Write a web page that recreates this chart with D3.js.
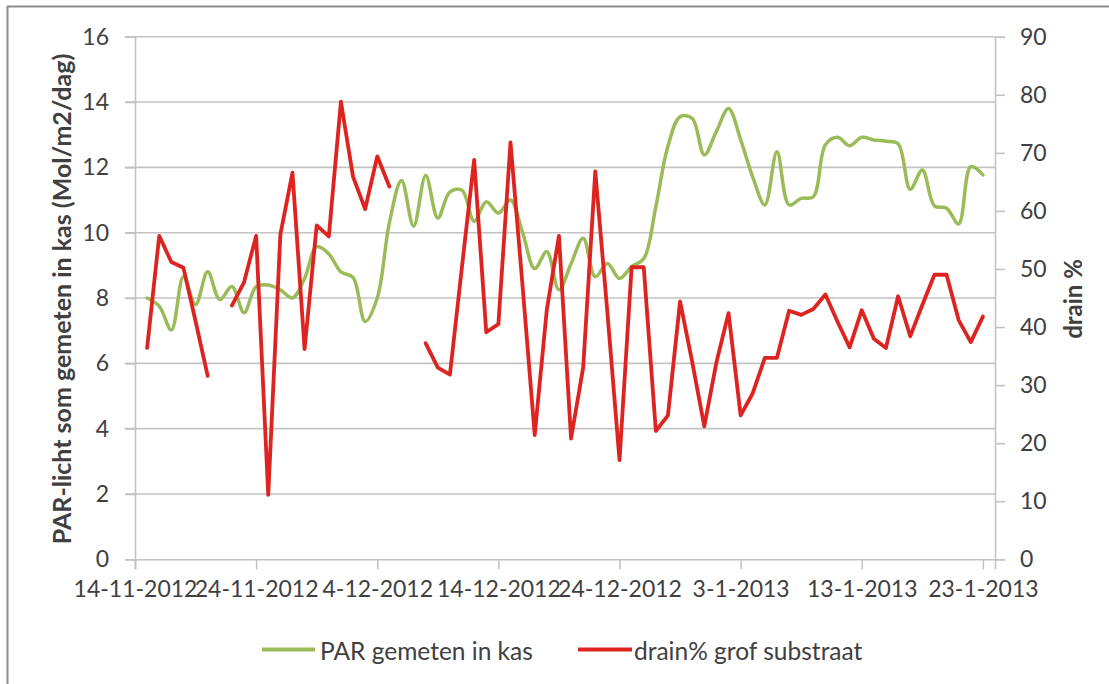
<!DOCTYPE html>
<html>
<head>
<meta charset="utf-8">
<script src="https://cdn.jsdelivr.net/npm/d3@7"></script>
<style>
  html, body { margin: 0; padding: 0; background: #ffffff; }
  svg { display: block; }
  text { font-family: "Lato", "Open Sans", sans-serif; fill: #404040; }
</style>
</head>
<body>
<svg id="chart" width="1109" height="684"></svg>
<script>
// ---------- data ----------
const dates = [
  "2012-11-15","2012-11-16","2012-11-17","2012-11-18","2012-11-19","2012-11-20","2012-11-21","2012-11-22",
  "2012-11-23","2012-11-24","2012-11-25","2012-11-26","2012-11-27","2012-11-28","2012-11-29","2012-11-30",
  "2012-12-01","2012-12-02","2012-12-03","2012-12-04","2012-12-05","2012-12-06","2012-12-07","2012-12-08",
  "2012-12-09","2012-12-10","2012-12-11","2012-12-12","2012-12-13","2012-12-14","2012-12-15","2012-12-16",
  "2012-12-17","2012-12-18","2012-12-19","2012-12-20","2012-12-21","2012-12-22","2012-12-23","2012-12-24",
  "2012-12-25","2012-12-26","2012-12-27","2012-12-28","2012-12-29","2012-12-30","2012-12-31",
  "2013-01-01","2013-01-02","2013-01-03","2013-01-04","2013-01-05","2013-01-06","2013-01-07","2013-01-08",
  "2013-01-09","2013-01-10","2013-01-11","2013-01-12","2013-01-13","2013-01-14","2013-01-15","2013-01-16",
  "2013-01-17","2013-01-18","2013-01-19","2013-01-20","2013-01-21","2013-01-22","2013-01-23"
];

// PAR gemeten in kas (Mol/m2/dag), left axis
const parValues = [
  8.0, 7.75, 7.02, 8.65, 7.8, 8.8, 7.95, 8.35, 7.55, 8.35, 8.4, 8.25, 8.0, 8.6, 9.57, 9.35,
  8.8, 8.63, 7.28, 8.0, 10.3, 11.6, 10.2, 11.75, 10.45, 11.25, 11.3, 10.35, 10.95, 10.6, 11.0, 10.0,
  8.9, 9.42, 8.25, 9.05, 9.83, 8.65, 9.06, 8.6, 8.96, 9.2, 10.8, 12.65, 13.55, 13.5, 12.38,
  13.1, 13.8, 12.85, 11.7, 10.85, 12.48, 10.85, 11.05, 11.1, 12.69, 12.92, 12.66, 12.92, 12.84, 12.8, 12.72,
  11.33, 11.92, 10.82, 10.75, 10.27, 12.02, 11.77
];

// drain% grof substraat, right axis (null = no measurement)
const drainValues = [
  36.4, 55.7, 51.2, 50.2, 41, 31.6, null, 43.7, 47.7, 55.7, 11.1, 55.9, 66.6, 36.2, 57.5, 55.6,
  78.8, 65.9, 60.3, 69.4, 64.2, null, null, 37.2, 33.0, 31.8, 50.5, 68.8, 39.1, 40.5, 71.8, 47,
  21.4, 43.0, 55.7, 20.8, 33.0, 66.8, 42.5, 17.1, 50.3, 50.3, 22.1, 24.8, 44.4, 34, 22.9,
  33.9, 42.4, 24.8, 28.6, 34.7, 34.7, 42.8, 42.1, 43.1, 45.6, 40.9, 36.5, 42.9, 38.0, 36.4, 45.3,
  38.4, 43.8, 49.0, 49.0, 41.2, 37.4, 41.8
];

const xTickLabels = ["14-11-2012","24-11-2012","4-12-2012","14-12-2012","24-12-2012","3-1-2013","13-1-2013","23-1-2013"];
const leftTicks = [0, 2, 4, 6, 8, 10, 12, 14, 16];
const rightTicks = [0, 10, 20, 30, 40, 50, 60, 70, 80, 90];
const xDomainLabels = ["14-11-2012", "24-1-2013"];

const leftTitle = "PAR-licht som gemeten in kas (Mol/m2/dag)";
const rightTitle = "drain %";
const seriesNames = ["PAR gemeten in kas", "drain% grof substraat"];
const seriesColors = ["#9bbb59", "#de2420"];

// ---------- layout ----------
const svg = d3.select("#chart");
const plot = { left: 135, right: 995, top: 36.7, bottom: 559.3 };
const labelFont = "Lato, 'Open Sans', sans-serif";
const tickSize = 23;
const legendSize = 24.5;

const parseISO = d3.utcParse("%Y-%m-%d");
const parseDMY = d3.utcParse("%d-%m-%Y");

const x = d3.scaleUtc()
  .domain(xDomainLabels.map(parseDMY))
  .range([plot.left, plot.right]);
const yL = d3.scaleLinear().domain([0, 16]).range([plot.bottom, plot.top]);
const yR = d3.scaleLinear().domain([0, 90]).range([plot.bottom, plot.top]);

const data = dates.map((d, i) => ({ date: parseISO(d), par: parValues[i], drain: drainValues[i] }));

// chart area border (partially visible in the reference)
svg.append("line").attr("x1", 7.5).attr("x2", 7.5).attr("y1", 6).attr("y2", 684)
  .attr("stroke", "#8c8c8c").attr("stroke-width", 2);
svg.append("line").attr("x1", 7).attr("x2", 1109).attr("y1", 6.5).attr("y2", 6.5)
  .attr("stroke", "#8c8c8c").attr("stroke-width", 2);

const gridColor = "#c3c3c3";

// horizontal gridlines
svg.append("g")
  .selectAll("line")
  .data(leftTicks.filter(t => t > 0))
  .join("line")
  .attr("x1", plot.left - 10).attr("x2", plot.right)
  .attr("y1", d => yL(d)).attr("y2", d => yL(d))
  .attr("stroke", gridColor).attr("stroke-width", 1.6);

function styleAxis(g) {
  g.select(".domain").attr("stroke", gridColor).attr("stroke-width", 1.6);
  g.selectAll(".tick line").attr("stroke", gridColor).attr("stroke-width", 1.6);
  g.selectAll(".tick text").attr("font-size", tickSize).attr("fill", "#404040")
    .style("font-family", labelFont);
}

// left axis
const leftAxis = d3.axisLeft(yL).tickValues(leftTicks).tickSize(10).tickPadding(16).tickFormat(d3.format("d"));
const gL = svg.append("g").attr("transform", `translate(${plot.left},0)`).call(leftAxis);
styleAxis(gL);

// right axis
const rightAxis = d3.axisRight(yR).tickValues(rightTicks).tickSize(10).tickPadding(15).tickFormat(d3.format("d"));
const gR = svg.append("g").attr("transform", `translate(${plot.right},0)`).call(rightAxis);
styleAxis(gR);

// bottom axis
const xTicks = xTickLabels.map(parseDMY);
const bottomAxis = d3.axisBottom(x).tickValues(xTicks).tickSize(10).tickPadding(11)
  .tickFormat((d, i) => xTickLabels[i]);
const gB = svg.append("g").attr("transform", `translate(0,${plot.bottom})`).call(bottomAxis);
styleAxis(gB);

// axis titles
svg.append("text")
  .attr("transform", `translate(61,${(plot.top + plot.bottom) / 2 + 1}) rotate(-90)`)
  .attr("text-anchor", "middle").attr("dominant-baseline", "central")
  .attr("font-size", 25).attr("font-weight", "bold").attr("fill", "#000")
  .text(leftTitle);
svg.append("text")
  .attr("transform", `translate(1072,${(plot.top + plot.bottom) / 2 + 1}) rotate(-90)`)
  .attr("text-anchor", "middle").attr("dominant-baseline", "central")
  .attr("font-size", 24).attr("font-weight", "bold").attr("fill", "#000")
  .text(rightTitle);

// series lines
const parLine = d3.line()
  .x(d => x(d.date)).y(d => yL(d.par))
  .curve(d3.curveCatmullRom.alpha(0.5));
const drainLine = d3.line()
  .defined(d => d.drain != null)
  .x(d => x(d.date)).y(d => yR(d.drain));

svg.append("path").datum(data)
  .attr("d", parLine).attr("fill", "none")
  .attr("stroke", seriesColors[0]).attr("stroke-width", 3.5)
  .attr("stroke-linejoin", "round").attr("stroke-linecap", "round");
svg.append("path").datum(data)
  .attr("d", drainLine).attr("fill", "none")
  .attr("stroke", seriesColors[1]).attr("stroke-width", 3.8)
  .attr("stroke-linejoin", "round").attr("stroke-linecap", "round");

// legend
const legendItems = [
  { x1: 262, x2: 315, tx: 320 },
  { x1: 578, x2: 632, tx: 634 }
];
const lg = svg.append("g");
legendItems.forEach((it, i) => {
  lg.append("line").attr("x1", it.x1).attr("x2", it.x2).attr("y1", 649.5).attr("y2", 649.5)
    .attr("stroke", seriesColors[i]).attr("stroke-width", 3.8);
  lg.append("text").attr("x", it.tx).attr("y", 650)
    .attr("dominant-baseline", "central").attr("font-size", legendSize).attr("fill", "#404040")
    .style("font-family", labelFont)
    .text(seriesNames[i]);
});
</script>
</body>
</html>
